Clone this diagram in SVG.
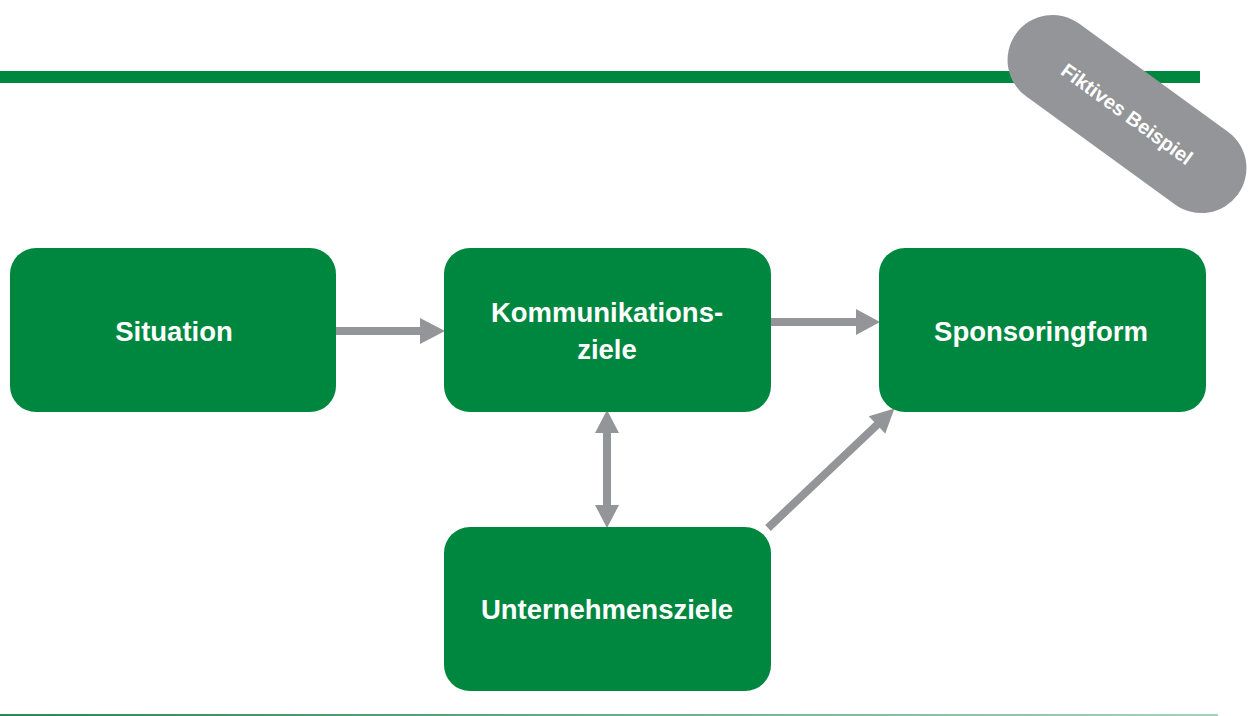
<svg xmlns="http://www.w3.org/2000/svg" width="1248" height="716" viewBox="0 0 1248 716">
<defs>
<style>
.node{fill:#00873F}
.lbl{font-family:"Liberation Sans",Arial,sans-serif;font-weight:bold;font-size:27.5px;fill:#ffffff;text-anchor:middle}
.arr{fill:#939598}
</style>
<linearGradient id="bl" x1="0" y1="0" x2="1" y2="0">
<stop offset="0" stop-color="#2f8556"/>
<stop offset="1" stop-color="#a7d3b7"/>
</linearGradient>
</defs>
<rect width="1248" height="716" fill="#ffffff"/>
<rect x="0" y="71" width="1200" height="12" fill="#00873F"/>
<rect x="0" y="714" width="1218" height="2" fill="url(#bl)"/>
<g id="badge" transform="translate(1127,114) rotate(36)">
<rect x="-137" y="-45" width="274" height="90" rx="45" fill="#939598"/>
<text x="0" y="7" font-family="'Liberation Sans',Arial,sans-serif" font-weight="bold" font-size="20" fill="#ffffff" text-anchor="middle">Fiktives Beispiel</text>
</g>
<g id="connectors">
<polygon class="arr" points="333,327 420,327 420,318 445,331 420,344 420,335 333,335"/>
<polygon class="arr" points="767,318 856,318 856,309 880,322 856,335 856,326 767,326"/>
<polygon class="arr" points="603,433 595,433 607,410 619,433 611,433 611,505 619,505 607,528 595,505 603,505"/>
<g transform="translate(768,528) rotate(-43.4)">
<polygon class="arr" points="0,-4 150,-4 150,-12 174,0 150,12 150,4 0,4"/>
</g>
</g>
<g id="situation">
<rect class="node" x="10" y="248" width="326" height="164" rx="26"/>
<text class="lbl" x="174" y="341">Situation</text>
</g>
<g id="kommunikationsziele">
<rect class="node" x="444" y="248" width="327" height="164" rx="26"/>
<text class="lbl" x="607" y="322">Kommunikations-</text>
<text class="lbl" x="607" y="359">ziele</text>
</g>
<g id="sponsoringform">
<rect class="node" x="879" y="248" width="327" height="164" rx="26"/>
<text class="lbl" x="1041" y="341">Sponsoringform</text>
</g>
<g id="unternehmensziele">
<rect class="node" x="444" y="527" width="327" height="164" rx="26"/>
<text class="lbl" x="607" y="619">Unternehmensziele</text>
</g>
</svg>
